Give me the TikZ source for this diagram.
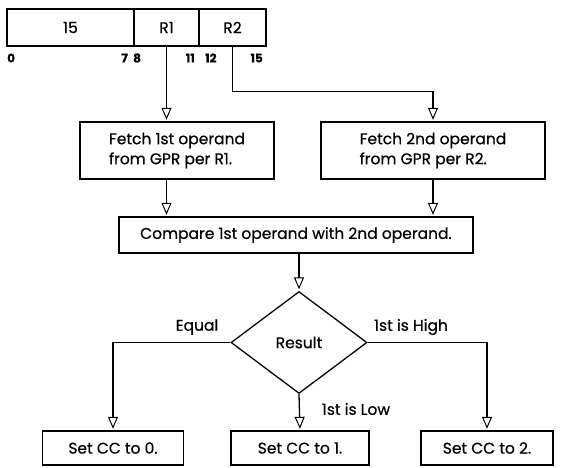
\documentclass[tikz,border=0pt]{standalone}
\usepackage{fontspec}
\setmainfont{Poppins}[FakeBold=0.6]
\usetikzlibrary{arrows.meta,shapes.geometric}

\tikzset{
  box/.style={draw, line width=1.3pt, inner sep=3pt},
  flow/.style={draw, line width=1.3pt, -{Triangle[open,length=12pt,width=10pt,line width=1pt]}, shorten >=1.5pt},
  bitno/.style={font=\fontsize{12}{13}\selectfont\bfseries},
}

\begin{document}
\begin{tikzpicture}[x=1pt,y=-1pt,font=\fontsize{15.5}{20}\selectfont]
  \useasboundingbox (0,0) rectangle (563,468);

  % Instruction format
  \node[box, minimum width=127pt, minimum height=37pt] (f15) at (70.5,27.5) {15};
  \node[box, minimum width=65pt, minimum height=37pt] (fr1) at (166.5,27.5) {R1};
  \node[box, minimum width=67pt, minimum height=37pt] (fr2) at (232.5,27.5) {R2};

  % Bit positions
  \foreach \pos/\lbl/\anc in {7/0/west, 128/7/east, 133/8/west, 195/11/east, 205/12/west, 263/15/east}
    \node[bitno, anchor=\anc, inner sep=0pt] (bit\lbl) at (\pos,58) {\lbl};

  % Operand fetch
  \node[box, minimum width=194pt, minimum height=57pt, align=left] (fetchA) at (177,150.5) {Fetch 1st operand\\from GPR per R1.};
  \node[box, minimum width=224pt, minimum height=57pt, align=left] (fetchB) at (433,150.5) {Fetch 2nd operand\\from GPR per R2.};

  % Compare and decide
  \node[box, minimum width=354pt, minimum height=36pt] (cmp) at (296,235) {Compare 1st operand with 2nd operand.};
  \node[draw, diamond, line width=1.3pt, minimum width=136pt, minimum height=102pt, inner sep=0pt] (res) at (299,342.5) {Result};

  % Condition code settings
  \node[box, minimum width=141pt, minimum height=34pt] (set0) at (113,448) {Set CC to 0.};
  \node[box, minimum width=138pt, minimum height=34pt] (set1) at (300,448) {Set CC to 1.};
  \node[box, minimum width=132pt, minimum height=34pt] (set2) at (487,448) {Set CC to 2.};

  % Branch labels
  \node (lblEq) at (197,327) {Equal};
  \node (lblHi) at (411,327) {1st is High};
  \node (lblLo) at (356,409) {1st is Low};

  % Draw flow lines
  \draw[flow] (fr1.south) -- (fetchA.north -| fr1.south);
  \draw[flow] (fr2.south) -- ++(0,45) -| (fetchB.north);
  \draw[flow] (fetchA.south -| fr1.south) -- (cmp.north -| fr1.south);
  \draw[flow] (fetchB.south) -- (cmp.north -| fetchB.south);
  \draw[flow] (cmp.south -| res.north) -- (res.north);
  \draw[flow] (res.west) -| (set0.north);
  \draw[flow] (res.south) -- (set1.north);
  \draw[flow] (res.east) -| (set2.north);
\end{tikzpicture}
\end{document}
